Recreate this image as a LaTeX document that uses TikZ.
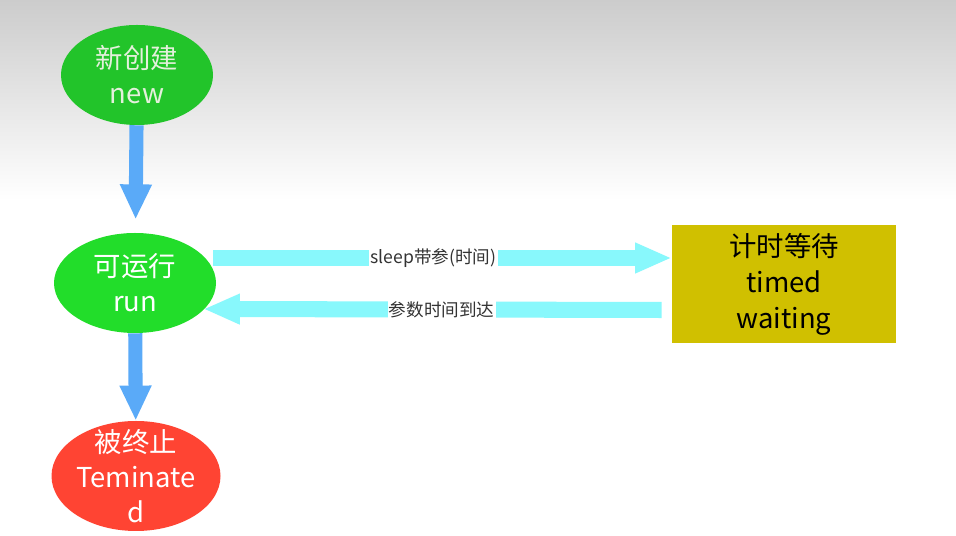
\documentclass[tikz,border=0pt]{standalone}
\usepackage{fontspec}
\setmainfont{Noto Sans CJK SC}
\usetikzlibrary{shapes.geometric, positioning, arrows.meta, calc}
\definecolor{newgreen}{RGB}{34, 196, 42}
\definecolor{rungreen}{RGB}{34, 221, 42}
\definecolor{termred}{RGB}{255, 68, 51}
\definecolor{waitolive}{RGB}{208, 192, 0}
\definecolor{downblue}{RGB}{90, 170, 248}
\definecolor{sidecyan}{RGB}{136, 248, 252}
\definecolor{paletext}{RGB}{228, 240, 220}

\begin{document}
\begin{tikzpicture}[
      state/.style={ellipse, draw=none, inner sep=0pt},
      statetext/.style={align=center, font=\fontsize{19.5pt}{25pt}\selectfont},
      waitbox/.style={rectangle, draw=none, fill=waitolive, minimum width=5.6cm, minimum height=2.95cm, align=center, font=\fontsize{19.5pt}{25.6pt}\selectfont},
      down/.style={-{Triangle[length=25pt, width=21pt]}, line width=10pt, draw=downblue},
      side/.style={-{Triangle[length=26pt, width=20pt]}, line width=11.4pt, draw=sidecyan},
      sidelabel/.style={midway, fill=white, inner sep=1pt, text=black!80, font=\fontsize{12.5pt}{14pt}\selectfont}
  ]

  % background
  \useasboundingbox (0,0) rectangle (23.9,13.4);
  \fill[white] (0,0) rectangle (23.9,13.4);
  \shade[top color=black!20, bottom color=white] (0,8.4) rectangle (23.9,13.4);

  % states
  \node[state, fill=newgreen, minimum width=3.8cm, minimum height=2.5cm,
        label={[statetext, text=paletext]center:新创建\\new}] (new) at (3.425,11.525) {};
  \node[state, fill=rungreen, minimum width=4.05cm, minimum height=2.5cm,
        label={[statetext, text=white]center:可运行\\run}] (run) at (3.375,6.325) {};
  \node[state, fill=termred, minimum width=4.225cm, minimum height=2.75cm,
        label={[statetext, text=white]center:被终止\\Teminate\\d}] (term) at (3.4,1.5) {};
  \node[waitbox] (timed) at (19.6,6.3) {计时等待\\timed\\waiting};

  % down arrows
  \draw[down, shorten >=0.33cm] (new) -- (run);
  \draw[down] (run) -- (term);

  % sleep / wake up
  \draw[side] ([xshift=-0.075cm, yshift=0.625cm]run.east) -- ([yshift=0.625cm]run.east -| timed.west)
      node[sidelabel, pos=0.48] {sleep带参(时间)};
  \draw[side] ([xshift=-0.25cm, yshift=-0.65cm]timed.west) -- ([xshift=-0.325cm, yshift=-0.65cm]run.east)
      node[sidelabel, pos=0.48] {参数时间到达};

\end{tikzpicture}
\end{document}
